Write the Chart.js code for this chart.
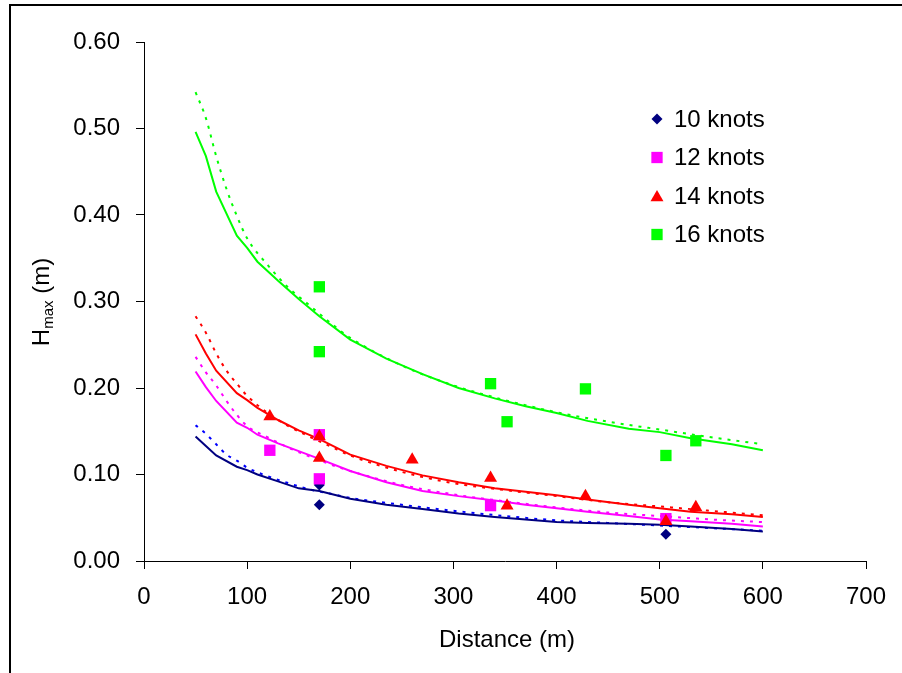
<!DOCTYPE html>
<html>
<head>
<meta charset="utf-8">
<title>Hmax vs distance</title>
<script src="https://cdn.jsdelivr.net/npm/chart.js@4.4.0/dist/chart.umd.min.js"></script>
<style>
  html, body { margin: 0; padding: 0; background: #fff; overflow: hidden; }
  #wrap { position: relative; width: 902px; height: 673px; }
</style>
</head>
<body>
<div id="wrap"><canvas id="chart" width="902" height="673"></canvas></div>
<script>
// series names and colours
const knots = ["10 knots", "12 knots", "14 knots", "16 knots"];
const markerColors = ["#000080", "#FF00FF", "#FF0000", "#00FF00"];
const dottedColors = ["#0000FF", "#FF00FF", "#FF0000", "#00FF00"];

// axis ticks
const xTicks = [0, 100, 200, 300, 400, 500, 600, 700];
const yTicks = [0, 0.1, 0.2, 0.3, 0.4, 0.5, 0.6];

// measured wave heights
const dist10 = [170, 170, 506];
const h10 = [0.088, 0.065, 0.031];
const dist12 = [122, 170, 170, 336, 506];
const h12 = [0.128, 0.146, 0.095, 0.064, 0.049];
const dist14 = [122, 170, 170, 260, 336, 352, 428, 506, 535];
const h14 = [0.167, 0.144, 0.119, 0.117, 0.096, 0.064, 0.075, 0.046, 0.062];
const dist16 = [170, 170, 336, 352, 428, 506, 535];
const h16 = [0.317, 0.242, 0.205, 0.161, 0.199, 0.122, 0.139];

// predicted (solid lines)
const solidX = [50, 60, 70, 90, 100, 110, 130, 150, 170, 200, 235, 270, 305, 340, 370, 400, 430, 470, 500, 530, 570, 600];
const solid10 = [0.144, 0.133, 0.122, 0.109, 0.105, 0.100, 0.092, 0.084, 0.081, 0.072, 0.065, 0.060, 0.055, 0.051, 0.048, 0.045, 0.044, 0.043, 0.042, 0.040, 0.037, 0.034];
const solid12 = [0.219, 0.201, 0.185, 0.160, 0.154, 0.146, 0.136, 0.127, 0.118, 0.104, 0.091, 0.081, 0.075, 0.070, 0.065, 0.061, 0.057, 0.052, 0.048, 0.046, 0.043, 0.040];
const solid14 = [0.262, 0.240, 0.220, 0.194, 0.186, 0.177, 0.163, 0.151, 0.141, 0.123, 0.110, 0.099, 0.091, 0.084, 0.080, 0.076, 0.071, 0.065, 0.061, 0.057, 0.054, 0.051];
const solid16 = [0.496, 0.468, 0.427, 0.376, 0.362, 0.346, 0.324, 0.303, 0.283, 0.256, 0.234, 0.216, 0.200, 0.188, 0.179, 0.171, 0.162, 0.153, 0.149, 0.142, 0.135, 0.128];

// fitted curves (dotted lines)
const dottedX = [50, 60, 70, 80, 90, 100, 120, 140, 160, 180, 200, 250, 300, 350, 400, 450, 500, 550, 600];
const dotted10 = [0.157, 0.147, 0.135, 0.123, 0.116, 0.108, 0.098, 0.090, 0.083, 0.078, 0.073, 0.065, 0.058, 0.052, 0.047, 0.044, 0.041, 0.038, 0.035];
const dotted12 = [0.236, 0.218, 0.203, 0.185, 0.169, 0.156, 0.143, 0.131, 0.121, 0.112, 0.104, 0.088, 0.077, 0.069, 0.062, 0.056, 0.052, 0.048, 0.045];
const dotted14 = [0.283, 0.264, 0.240, 0.220, 0.205, 0.191, 0.171, 0.156, 0.144, 0.133, 0.122, 0.103, 0.090, 0.082, 0.075, 0.068, 0.063, 0.058, 0.053];
const dotted16 = [0.542, 0.512, 0.468, 0.430, 0.399, 0.373, 0.342, 0.316, 0.296, 0.276, 0.258, 0.226, 0.203, 0.186, 0.172, 0.161, 0.152, 0.143, 0.135];

const FONT = '"Liberation Sans", Arial, sans-serif';

function pairs(xs, ys) {
  return xs.map(function (x, i) { return { x: x, y: ys[i] }; });
}

const measured = [[dist10, h10], [dist12, h12], [dist14, h14], [dist16, h16]];
const solids = [solid10, solid12, solid14, solid16];
const dotteds = [dotted10, dotted12, dotted14, dotted16];
const styles = [
  { pointStyle: "rectRot", radius: 5.5 },
  { pointStyle: "rect", radius: 8 },
  { pointStyle: "triangle", radius: 7.5 },
  { pointStyle: "rect", radius: 8 }
];

var datasets = [];

// markers: green drawn on top, navy lowest
measured.forEach(function (m, i) {
  datasets.push({
    label: knots[i],
    data: pairs(m[0], m[1]),
    showLine: false,
    pointStyle: styles[i].pointStyle,
    pointRadius: styles[i].radius,
    pointHoverRadius: styles[i].radius,
    pointBackgroundColor: markerColors[i],
    pointBorderWidth: 0,
    order: 3 - i
  });
});

solids.forEach(function (s, i) {
  datasets.push({
    label: knots[i] + " predicted",
    data: pairs(solidX, s),
    showLine: true,
    borderColor: markerColors[i],
    borderWidth: 2,
    pointRadius: 0,
    tension: 0,
    order: 10 + i
  });
});

dotteds.forEach(function (d, i) {
  datasets.push({
    label: knots[i] + " fit",
    data: pairs(dottedX, d),
    showLine: true,
    borderColor: dottedColors[i],
    borderWidth: 2,
    borderDash: [3, 6],
    pointRadius: 0,
    cubicInterpolationMode: "monotone",
    order: 20 + i
  });
});

// outer frame, axis titles and the in-plot legend
const decorations = {
  id: "decorations",
  beforeDraw: function (chart) {
    const ctx = chart.ctx;
    ctx.save();
    ctx.strokeStyle = "#000";
    ctx.lineWidth = 2;
    ctx.strokeRect(10, 5, 2000, 2000);
    ctx.restore();
  },
  afterDraw: function (chart) {
    const ctx = chart.ctx;
    ctx.save();
    ctx.fillStyle = "#000";

    // x title
    ctx.font = "24px " + FONT;
    ctx.textAlign = "center";
    ctx.textBaseline = "middle";
    ctx.fillText("Distance (m)", 507, 640);

    // y title with subscript
    ctx.translate(41, 302);
    ctx.rotate(-Math.PI / 2);
    ctx.textAlign = "left";
    ctx.textBaseline = "alphabetic";
    const big = "24px " + FONT;
    const small = "15px " + FONT;
    ctx.font = big;
    const wH = ctx.measureText("H").width;
    const wM = ctx.measureText(" (m)").width;
    ctx.font = small;
    const wS = ctx.measureText("max").width;
    var x0 = -(wH + wS + wM) / 2;
    ctx.font = big;
    ctx.fillText("H", x0, 8);
    ctx.font = small;
    ctx.fillText("max", x0 + wH, 12);
    ctx.font = big;
    ctx.fillText(" (m)", x0 + wH + wS, 8);
    ctx.restore();

    // legend
    ctx.save();
    ctx.font = "24px " + FONT;
    ctx.textAlign = "left";
    ctx.textBaseline = "middle";
    knots.forEach(function (label, i) {
      const y = 119 + i * 38.5;
      ctx.fillStyle = markerColors[i];
      const dy = styles[i].pointStyle === "triangle" ? 1.5 : 0;
      Chart.helpers.drawPoint(ctx, {
        pointStyle: styles[i].pointStyle,
        radius: styles[i].radius,
        rotation: 0,
        borderWidth: 0
      }, 657, y + dy);
      ctx.fillStyle = "#000";
      ctx.fillText(label, 674, y + 1);
    });
    ctx.restore();
  }
};

Chart.defaults.font.family = FONT;
Chart.defaults.font.size = 24;
Chart.defaults.color = "#000";

new Chart(document.getElementById("chart").getContext("2d"), {
  type: "scatter",
  data: { datasets: datasets },
  options: {
    responsive: false,
    animation: false,
    devicePixelRatio: 1,
    layout: { padding: { top: 42, right: 36, left: 0, bottom: 0 } },
    plugins: {
      legend: { display: false },
      tooltip: { enabled: false }
    },
    scales: {
      x: {
        type: "linear",
        min: 0,
        max: 700,
        afterBuildTicks: function (s) { s.ticks = xTicks.map(function (v) { return { value: v }; }); },
        afterFit: function (s) { s.height = 112; },
        grid: { drawOnChartArea: false, drawTicks: true, tickLength: 8, tickColor: "#000" },
        border: { color: "#000", width: 1 },
        ticks: { padding: 14, maxRotation: 0, autoSkip: false, color: "#000" }
      },
      y: {
        type: "linear",
        min: 0,
        max: 0.6,
        afterBuildTicks: function (s) { s.ticks = yTicks.map(function (v) { return { value: v }; }); },
        afterFit: function (s) { s.width = 144; },
        grid: { drawOnChartArea: false, drawTicks: true, tickLength: 8, tickColor: "#000" },
        border: { color: "#000", width: 1 },
        ticks: {
          padding: 16,
          color: "#000",
          callback: function (v) { return v.toFixed(2); }
        }
      }
    }
  },
  plugins: [decorations]
});
</script>
</body>
</html>
